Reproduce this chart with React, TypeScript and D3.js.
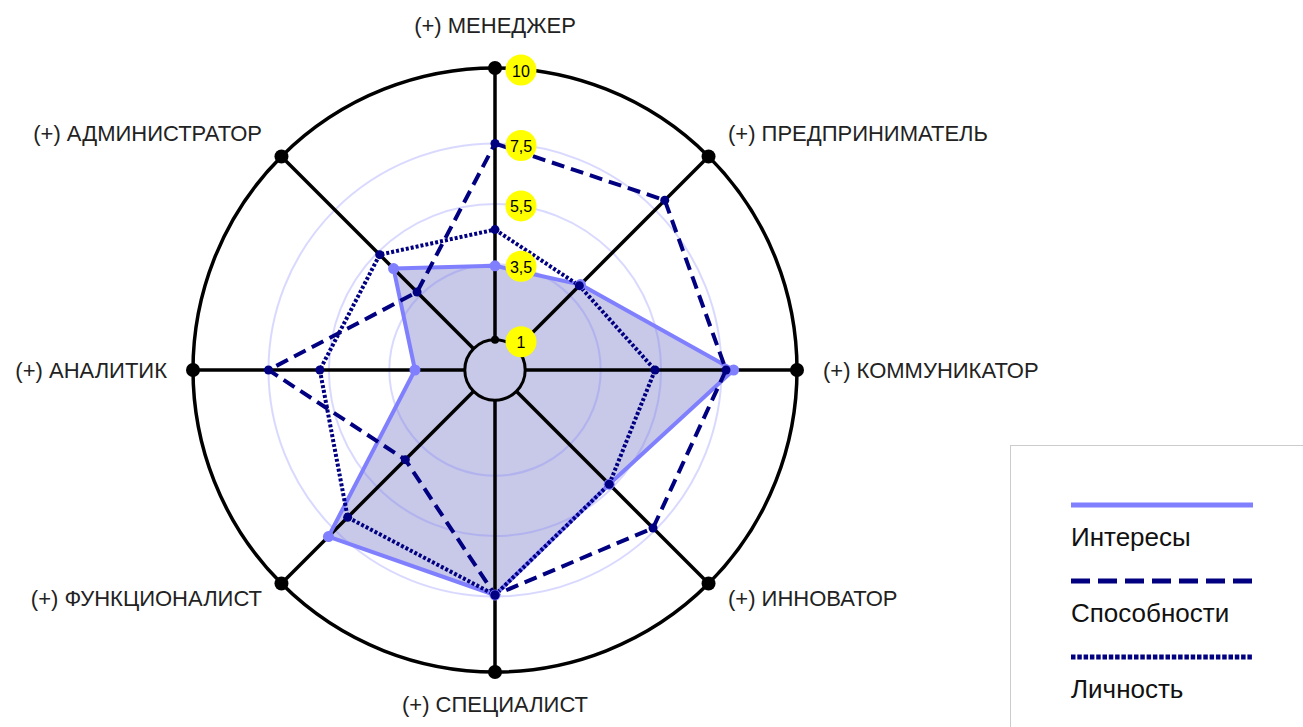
import React from "react";
import * as d3 from "d3";

const categories = [
  "(+) МЕНЕДЖЕР",
  "(+) ПРЕДПРИНИМАТЕЛЬ",
  "(+) КОММУНИКАТОР",
  "(+) ИННОВАТОР",
  "(+) СПЕЦИАЛИСТ",
  "(+) ФУНКЦИОНАЛИСТ",
  "(+) АНАЛИТИК",
  "(+) АДМИНИСТРАТОР",
];
const interests = [3.45, 4, 7.9, 5.35, 7.45, 7.8, 2.65, 4.75];
const abilities = [7.5, 7.95, 7.65, 7.4, 7.45, 4.2, 7.5, 3.65];
const personality = [4.65, 3.95, 5.3, 5.35, 7.45, 6.9, 5.8, 5.4];
const seriesNames = ["Интересы", "Способности", "Личность"];
const scaleTicks = [1, 3.5, 5.5, 7.5, 10];
const tickLabels = ["1", "3,5", "5,5", "7,5", "10"];
const gridValues = [3.5, 5.5, 7.5];

const W = 1303;
const H = 727;
const CX = 495;
const CY = 370;
const FONT = "'Liberation Sans', Arial, sans-serif";

export default function App() {
  const r = d3.scaleLinear().domain([0, 10]).range([0, 302]);
  const n = categories.length;
  const ang = (i: number) => (i * 2 * Math.PI) / n;
  const pt = (i: number, v: number): [number, number] => [
    CX + r(v) * Math.sin(ang(i)),
    CY - r(v) * Math.cos(ang(i)),
  ];
  const radial = d3
    .lineRadial<number>()
    .angle((_, i) => ang(i))
    .radius((d) => r(d))
    .curve(d3.curveLinearClosed);

  const navy = "#000080";
  const light = "#8080ff";

  const labelPos = (i: number) => {
    const a = ang(i);
    const s = Math.sin(a);
    const c = Math.cos(a);
    const diag = Math.abs(s) > 0.01 && Math.abs(c) > 0.01;
    const rx = diag ? 233 / 0.7071 : 328;
    let ry = i === 0 ? 345 : 334;
    if (diag) ry = c > 0 ? 236 / 0.7071 : 228 / 0.7071;
    const x = CX + rx * s;
    const y = CY - ry * c;
    const anchor = Math.abs(s) < 0.01 ? "middle" : s > 0 ? "start" : "end";
    return { x, y, anchor };
  };

  const legendY = [505, 581, 657];
  const legendDash = ["none", "19 8", "4.5 1.8"];
  const legendColor = [light, navy, navy];

  return (
    <svg width={W} height={H} style={{ display: "block", position: "absolute", left: 0, top: 0 }}>
      <rect x={0} y={0} width={W} height={H} fill="#fff" />
      <g transform={`translate(${CX},${CY})`}>
        <path d={radial(interests) || ""} fill="rgb(200,200,232)" stroke="none" />
      </g>
      {gridValues.map((g) => (
        <circle key={g} cx={CX} cy={CY} r={r(g)} fill="none" stroke="#8080ff" strokeOpacity={0.3} strokeWidth={2} />
      ))}
      {categories.map((c, i) => {
        const [x1, y1] = pt(i, 1);
        const [x2, y2] = pt(i, 10);
        return <line key={c} x1={x1} y1={y1} x2={x2} y2={y2} stroke="#000" strokeWidth={3.5} />;
      })}
      <circle cx={CX} cy={CY} r={r(1)} fill="none" stroke="#000" strokeWidth={3} />
      <circle cx={CX} cy={CY} r={r(10)} fill="none" stroke="#000" strokeWidth={3.5} />
      {categories.map((c, i) => {
        const [x, y] = pt(i, 10);
        return <circle key={c} cx={x} cy={y} r={7} fill="#000" />;
      })}
      <circle cx={pt(0, 1)[0]} cy={pt(0, 1)[1]} r={4} fill="#000" />
      <g transform={`translate(${CX},${CY})`}>
        <path d={radial(interests) || ""} fill="none" stroke={light} strokeWidth={4} strokeLinejoin="round" />
        <path d={radial(abilities) || ""} fill="none" stroke={navy} strokeWidth={4} strokeDasharray="13 7" />
        <path d={radial(personality) || ""} fill="none" stroke={navy} strokeWidth={4} strokeDasharray="3 2" />
      </g>
      {interests.map((v, i) => {
        const [x, y] = pt(i, v);
        return <circle key={"i" + i} cx={x} cy={y} r={5.5} fill={light} />;
      })}
      {abilities.map((v, i) => {
        const [x, y] = pt(i, v);
        return <circle key={"a" + i} cx={x} cy={y} r={4.5} fill={navy} />;
      })}
      {personality.map((v, i) => {
        const [x, y] = pt(i, v);
        return <circle key={"p" + i} cx={x} cy={y} r={4.5} fill={navy} />;
      })}
      {scaleTicks.map((t, k) => {
        const y = CY - r(t) + 2;
        return (
          <g key={t}>
            <circle cx={CX + 26} cy={y} r={15.5} fill="#ffff00" />
            <text x={CX + 26} y={y + 1} textAnchor="middle" dominantBaseline="central" fontFamily={FONT} fontSize={16} fill="#000">
              {tickLabels[k]}
            </text>
          </g>
        );
      })}
      {categories.map((c, i) => {
        const p = labelPos(i);
        return (
          <text key={c} x={p.x} y={p.y} textAnchor={p.anchor as any} dominantBaseline="central" fontFamily={FONT} fontSize={22} fill="#222">
            {c}
          </text>
        );
      })}
      <rect x={1010.5} y={445.5} width={320} height={320} fill="#fff" stroke="#ccc" strokeWidth={1} />
      {seriesNames.map((s, k) => (
        <g key={s}>
          <line x1={1071} x2={1253} y1={legendY[k]} y2={legendY[k]} stroke={legendColor[k]} strokeWidth={5} strokeDasharray={legendDash[k]} />
          <text x={1071} y={legendY[k] + 41} fontFamily={FONT} fontSize={26} fill="#111">
            {s}
          </text>
        </g>
      ))}
    </svg>
  );
}
